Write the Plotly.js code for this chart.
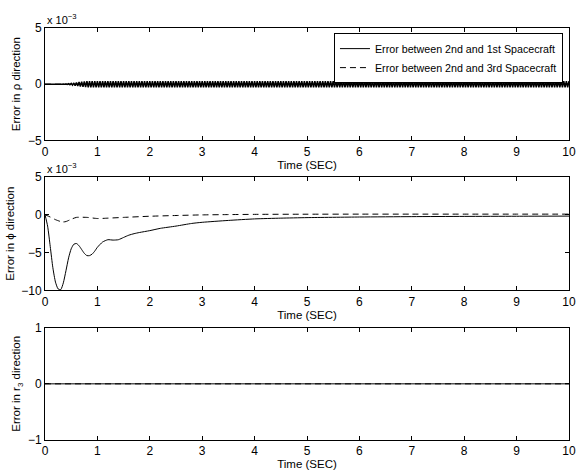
<!DOCTYPE html>
<html>
<head>
<meta charset="utf-8">
<script src="https://cdn.plot.ly/plotly-3.0.1.min.js"></script>
<style>html,body{margin:0;padding:0;background:#fff;}#chart{width:576px;height:473px;}</style>
</head>
<body>
<div id="chart"></div>
<script>
// ---- Data (error values in units of 1e-3 for rho and phi) ----
var legendNames = ["Error between 2nd and 1st Spacecraft", "Error between 2nd and 3rd Spacecraft"];

// Top panel: rho direction, fast oscillation sampled every 0.025 s from t = 0 to 10 (one row per second)
var rhoStart = 0, rhoStep = 0.025;
var rho1 = [
  0,0,0,0,0,0,0,0,0,0,0,0,0.005,-0.005,0.01,-0.01,0.02,-0.03,0.04,-0.05,0.07,-0.09,0.11,-0.13,0.15,-0.17,0.19,-0.21,0.22,-0.24,0.25,-0.26,0.27,-0.27,0.28,-0.27,0.28,-0.28,0.27,-0.28,
  0.28,-0.28,0.27,-0.28,0.28,-0.27,0.28,-0.28,0.27,-0.27,0.28,-0.28,0.28,-0.27,0.27,-0.28,0.28,-0.28,0.28,-0.27,0.27,-0.28,0.28,-0.28,0.28,-0.27,0.28,-0.28,0.27,-0.28,0.28,-0.27,0.28,-0.28,0.27,-0.27,0.28,-0.28,0.28,-0.28,
  0.28,-0.28,0.27,-0.28,0.28,-0.27,0.28,-0.28,0.27,-0.27,0.28,-0.28,0.28,-0.27,0.27,-0.28,0.28,-0.28,0.28,-0.27,0.27,-0.28,0.28,-0.28,0.28,-0.27,0.28,-0.28,0.27,-0.28,0.28,-0.27,0.28,-0.28,0.27,-0.27,0.28,-0.28,0.28,-0.28,
  0.28,-0.28,0.27,-0.28,0.28,-0.27,0.28,-0.28,0.27,-0.27,0.28,-0.28,0.28,-0.27,0.27,-0.28,0.28,-0.28,0.28,-0.27,0.27,-0.28,0.28,-0.28,0.28,-0.27,0.28,-0.28,0.27,-0.28,0.28,-0.27,0.28,-0.28,0.27,-0.27,0.28,-0.28,0.28,-0.28,
  0.28,-0.28,0.27,-0.28,0.28,-0.27,0.28,-0.28,0.27,-0.27,0.28,-0.28,0.28,-0.27,0.27,-0.28,0.28,-0.28,0.28,-0.27,0.27,-0.28,0.28,-0.28,0.28,-0.27,0.28,-0.28,0.27,-0.28,0.28,-0.27,0.28,-0.28,0.27,-0.27,0.28,-0.28,0.28,-0.28,
  0.28,-0.28,0.27,-0.28,0.28,-0.27,0.28,-0.28,0.27,-0.27,0.28,-0.28,0.28,-0.27,0.27,-0.28,0.28,-0.28,0.28,-0.27,0.27,-0.28,0.28,-0.28,0.28,-0.27,0.28,-0.28,0.27,-0.28,0.28,-0.27,0.28,-0.28,0.27,-0.27,0.28,-0.28,0.28,-0.28,
  0.28,-0.28,0.27,-0.28,0.28,-0.27,0.28,-0.28,0.27,-0.27,0.28,-0.28,0.28,-0.27,0.27,-0.28,0.28,-0.28,0.28,-0.27,0.27,-0.28,0.28,-0.28,0.28,-0.27,0.28,-0.28,0.27,-0.28,0.28,-0.27,0.28,-0.28,0.27,-0.27,0.28,-0.28,0.28,-0.28,
  0.28,-0.28,0.27,-0.28,0.28,-0.27,0.28,-0.28,0.27,-0.27,0.28,-0.28,0.28,-0.27,0.27,-0.28,0.28,-0.28,0.28,-0.27,0.27,-0.28,0.28,-0.28,0.28,-0.27,0.28,-0.28,0.27,-0.28,0.28,-0.27,0.28,-0.28,0.27,-0.27,0.28,-0.28,0.28,-0.28,
  0.28,-0.28,0.27,-0.28,0.28,-0.27,0.28,-0.28,0.27,-0.27,0.28,-0.28,0.28,-0.27,0.27,-0.28,0.28,-0.28,0.28,-0.27,0.27,-0.28,0.28,-0.28,0.28,-0.27,0.28,-0.28,0.27,-0.28,0.28,-0.27,0.28,-0.28,0.27,-0.27,0.28,-0.28,0.28,-0.28,
  0.28,-0.28,0.27,-0.28,0.28,-0.27,0.28,-0.28,0.27,-0.27,0.28,-0.28,0.28,-0.27,0.27,-0.28,0.28,-0.28,0.28,-0.27,0.27,-0.28,0.28,-0.28,0.28,-0.27,0.28,-0.28,0.27,-0.28,0.28,-0.27,0.28,-0.28,0.27,-0.27,0.28,-0.28,0.28,-0.28,
  0.28];
var tRho2 = [0,0.5,1,2,3,4,5,6,7,8,9,10];
var rho2 = [0,0.02,0.03,0.02,0.03,0.02,0.03,0.02,0.03,0.02,0.03,0.02];

// Middle panel: phi direction
var tPhi1 = [0,0.05,0.1,0.15,0.2,0.25,0.3,0.35,0.4,0.45,0.5,0.55,0.6,0.65,0.7,0.75,0.8,0.85,0.9,0.95,
  1.0,1.1,1.2,1.3,1.4,1.5,1.6,1.7,1.8,2.0,2.2,2.5,2.8,3.0,3.5,4.0,4.5,5,6,7,8,9,10];
var phi1 = [0,-1.5,-4.2,-7.0,-8.9,-9.8,-9.9,-9.0,-7.4,-5.7,-4.5,-3.9,-3.8,-4.1,-4.6,-5.1,-5.4,-5.4,-5.2,-4.8,
  -4.3,-3.6,-3.3,-3.35,-3.3,-3.0,-2.7,-2.5,-2.35,-2.1,-1.8,-1.5,-1.15,-1.0,-0.75,-0.55,-0.45,-0.38,-0.3,-0.25,-0.22,-0.2,-0.18];
var tPhi2 = [0,0.1,0.2,0.3,0.35,0.4,0.5,0.6,0.8,1.0,1.2,1.5,2,2.5,3,3.5,4,5,6,7,8,9,10];
var phi2 = [0,-0.3,-0.65,-0.9,-0.95,-0.9,-0.6,-0.35,-0.35,-0.5,-0.45,-0.35,-0.2,-0.1,-0.02,0.02,0.05,0.07,0.08,0.08,0.08,0.08,0.08];

// Bottom panel: r3 direction
var tR3 = [0,10];
var r3a = [0,0];
var r3b = [0,0];

var xTicks = [0,1,2,3,4,5,6,7,8,9,10];
var yTicksRho = [-5,0,5];
var yTicksPhi = [-10,-5,0,5];
var yTicksR3 = [-1,0,1];

// ---- Plot ----
var FONT = "Liberation Sans, Arial, Helvetica, sans-serif";
var TICKSIZE = 12, TITLESIZE = 11.5;

var traces = [
  {y:rho1, x0:rhoStart, dx:rhoStep, xaxis:"x", yaxis:"y", mode:"lines", line:{color:"#000", width:1.5, simplify:false}, legendgroup:"a", showlegend:false},
  {x:tRho2, y:rho2, xaxis:"x", yaxis:"y", mode:"lines", line:{color:"#000", width:1, dash:"6px,4px"}, legendgroup:"b", showlegend:false},
  {x:tPhi1, y:phi1, xaxis:"x2", yaxis:"y2", mode:"lines", line:{color:"#000", width:1, shape:"spline", smoothing:0.6}, legendgroup:"a", showlegend:false},
  {x:tPhi2, y:phi2, xaxis:"x2", yaxis:"y2", mode:"lines", line:{color:"#000", width:1, dash:"6px,4px", shape:"spline", smoothing:0.6}, legendgroup:"b", showlegend:false},
  {x:tR3, y:r3a, xaxis:"x3", yaxis:"y3", mode:"lines", line:{color:"#000", width:1}, name:legendNames[0], legendgroup:"a", showlegend:true},
  {x:tR3, y:r3b, xaxis:"x3", yaxis:"y3", mode:"lines", line:{color:"#000", width:1, dash:"6px,4px"}, name:legendNames[1], legendgroup:"b", showlegend:true}
];

function xax(anchor){
  return {domain:[0,1], anchor:anchor, range:[0,10], tickvals:xTicks, ticks:"inside", ticklen:4,
    tickcolor:"#000", showline:true, linecolor:"#000", linewidth:1, mirror:"ticks", showgrid:false, zeroline:false,
    tickfont:{family:FONT, size:TICKSIZE, color:"#000"},
    title:{text:"Time (SEC)", font:{family:FONT, size:TITLESIZE, color:"#000"}, standoff:0}};
}
function yax(anchor, dom, rng, tv, title){
  return {domain:dom, anchor:anchor, range:rng, tickvals:tv, ticks:"inside", ticklen:4,
    tickcolor:"#000", showline:true, linecolor:"#000", linewidth:1, mirror:"ticks", showgrid:false, zeroline:false,
    tickfont:{family:FONT, size:TICKSIZE, color:"#000"},
    title:{text:title, font:{family:FONT, size:TITLESIZE, color:"#000"}, standoff:4}};
}

var layout = {
  width:576, height:473,
  margin:{l:45, r:7, t:0, b:0},
  paper_bgcolor:"#fff", plot_bgcolor:"#fff",
  font:{family:FONT, color:"#000"},
  xaxis: xax("y"),
  xaxis2: xax("y2"),
  xaxis3: xax("y3"),
  yaxis: yax("x", [0.703, 0.941], [-5,5], yTicksRho, "Error in ρ direction"),
  yaxis2: yax("x2", [0.386, 0.626], [-10,5], yTicksPhi, "Error in ϕ direction"),
  yaxis3: yax("x3", [0.070, 0.307], [-1,1], yTicksR3, "Error in r<sub>3</sub> direction"),
  showlegend:true,
  legend:{x:0.9885, xanchor:"right", y:0.93, yanchor:"top", bgcolor:"#fff", bordercolor:"#000", borderwidth:1,
    font:{family:FONT, size:10.7, color:"#000"}, itemwidth:30, tracegroupgap:0},
  annotations:[
    {xref:"paper", yref:"paper", x:0, y:0.941, xanchor:"left", yanchor:"bottom", showarrow:false, yshift:0,
     text:"x 10<sup>−3</sup>", font:{family:FONT, size:11, color:"#000"}},
    {xref:"paper", yref:"paper", x:0, y:0.626, xanchor:"left", yanchor:"bottom", showarrow:false, yshift:0,
     text:"x 10<sup>−3</sup>", font:{family:FONT, size:11, color:"#000"}}
  ]
};

Plotly.newPlot("chart", traces, layout, {displayModeBar:false, staticPlot:true});
</script>
</body>
</html>
